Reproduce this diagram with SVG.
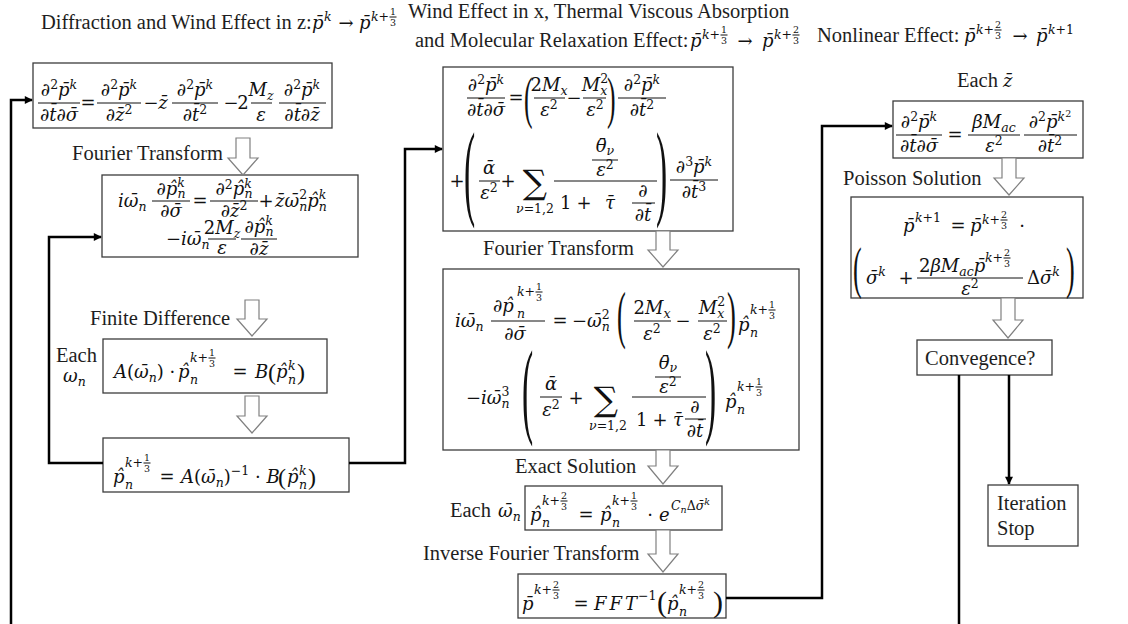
<svg xmlns="http://www.w3.org/2000/svg" width="1128" height="624" viewBox="0 0 1128 624">
<style>
.l{font-family:"Liberation Serif","Times New Roman",serif;font-size:20.5px;fill:#1e1e1e}
.m{font-family:"DejaVu Serif",serif;font-style:italic;font-size:18px;fill:#111}
.n{font-style:normal}
.s{font-size:12.5px}
.t{font-size:9.5px}
.c{text-anchor:middle}
.bar{stroke:#111;stroke-width:1}
.bx{fill:#fff;stroke:#3c3c3c;stroke-width:1.3}
.ha{fill:#fff;stroke:#808080;stroke-width:1.2}
.cn{fill:none;stroke:#000;stroke-width:2.5}
.pa{font-family:"Liberation Serif",serif;fill:#111}
</style>
<defs>
<marker id="ah" viewBox="0 0 10 10" refX="9" refY="5" markerWidth="9" markerHeight="8" markerUnits="userSpaceOnUse" orient="auto"><path d="M0,0 L10,5 L0,10 z" fill="#000"/></marker>
<g id="k13"><text class="m s" x="0" y="0">k+</text><text class="m n t c" x="22" y="-6">1</text><line class="bar" x1="18.5" x2="25.5" y1="-4" y2="-4" stroke-width="0.8"/><text class="m n t c" x="22" y="4.5">3</text></g>
<g id="k23"><text class="m s" x="0" y="0">k+</text><text class="m n t c" x="22" y="-6">2</text><line class="bar" x1="18.5" x2="25.5" y1="-4" y2="-4" stroke-width="0.8"/><text class="m n t c" x="22" y="4.5">3</text></g>
<text id="d2pk" class="m c">∂<tspan class="s n" dy="-7">2</tspan><tspan dy="7">p̄</tspan><tspan class="s" dy="-7">k</tspan></text>
<text id="dtds" class="m c">∂t̄∂σ̄</text>
<text id="dpnk" class="m c">∂p̂<tspan class="s" dy="-8">k</tspan><tspan class="s" dx="-7.5" dy="11">n</tspan></text>
<text id="e2" class="m c">ε<tspan class="s n" dy="-7">2</tspan></text>
</defs>

<g id="header">
<text class="l" x="41" y="29">Diffraction and Wind Effect in z:</text>
<text class="m" x="312" y="29">p̄</text><text class="m s" x="324" y="21">k</text>
<text class="m n c" x="346" y="29">→</text>
<text class="m" x="359" y="29">p̄</text><use href="#k13" x="371" y="21"/>
<text class="l" x="408" y="18">Wind Effect in x, Thermal Viscous Absorption</text>
<text class="l" x="415" y="47">and Molecular Relaxation Effect:</text>
<text class="m" x="690" y="47">p̄</text><use href="#k13" x="702" y="39"/>
<text class="m n c" x="745" y="47">→</text>
<text class="m" x="762" y="47">p̄</text><use href="#k23" x="774" y="39"/>
<text class="l" x="817" y="42">Nonlinear Effect:</text>
<text class="m" x="964" y="42">p̄</text><use href="#k23" x="976" y="34"/>
<text class="m n c" x="1020" y="42">→</text>
<text class="m" x="1036" y="42">p̄</text><text class="m s" x="1048" y="34">k<tspan class="n">+1</tspan></text>
</g>

<g id="n1">
<rect class="bx" x="33" y="63" width="299" height="65"/>
<use href="#d2pk" x="59" y="96"/><line class="bar" x1="38" x2="80" y1="103" y2="103"/><use href="#dtds" x="59" y="121"/>
<text class="m n c" x="88" y="109">=</text>
<use href="#d2pk" x="119" y="96"/><line class="bar" x1="97" x2="141" y1="103" y2="103"/><text class="m c" x="119" y="121">∂z̄<tspan class="s n" dy="-7">2</tspan></text>
<text class="m n c" x="151" y="109">−</text>
<text class="m c" x="163" y="109">z̄</text>
<use href="#d2pk" x="195" y="96"/><line class="bar" x1="172" x2="218" y1="103" y2="103"/><text class="m c" x="195" y="121">∂t̄<tspan class="s n" dy="-7">2</tspan></text>
<text class="m n c" x="231" y="109">−</text>
<text class="m n c" x="243" y="109">2</text>
<text class="m c" x="261" y="96">M<tspan class="s" dy="4">z</tspan></text><line class="bar" x1="251" x2="272" y1="103" y2="103"/><text class="m c" x="261" y="121">ε</text>
<use href="#d2pk" x="302" y="96"/><line class="bar" x1="279" x2="326" y1="103" y2="103"/><text class="m c" x="302" y="121">∂t̄∂z̄</text>
</g>

<g id="n2">
<rect class="bx" x="102" y="175" width="256" height="82"/>
<text class="m" x="118" y="207">iω̄<tspan class="s" dy="4">n</tspan></text>
<use href="#dpnk" x="171" y="195"/><line class="bar" x1="152" x2="190" y1="201" y2="201"/><text class="m c" x="171" y="217">∂σ̄</text>
<text class="m n c" x="200" y="207">=</text>
<text class="m c" x="234" y="195">∂<tspan class="s n" dy="-6">2</tspan><tspan dy="6">p̂</tspan><tspan class="s" dy="-7">k</tspan><tspan class="s" dx="-7.5" dy="10">n</tspan></text><line class="bar" x1="210" x2="258" y1="201" y2="201"/><text class="m c" x="234" y="217">∂z̄<tspan class="s n" dy="-7">2</tspan></text>
<text class="m n c" x="266" y="207">+</text>
<text class="m" x="275" y="207">z̄ω̄<tspan class="s n" dy="-8">2</tspan><tspan class="s" dx="-8" dy="12">n</tspan><tspan dy="-4">p̂</tspan><tspan class="s" dy="-8">k</tspan><tspan class="s" dx="-7.5" dy="12">n</tspan></text>
<text class="m" x="166" y="245"><tspan class="n">−</tspan>iω̄<tspan class="s" dy="4">n</tspan></text>
<text class="m c" x="222" y="234"><tspan class="n">2</tspan>M<tspan class="s" dy="4">z</tspan></text><line class="bar" x1="208" x2="236" y1="239" y2="239"/><text class="m c" x="222" y="254">ε</text>
<use href="#dpnk" x="259" y="233"/><line class="bar" x1="241" x2="277" y1="239" y2="239"/><text class="m c" x="259" y="255">∂z̄</text>
</g>

<g id="n3">
<text class="l" x="56" y="362">Each</text>
<text class="m" x="63" y="382">ω<tspan class="s" dy="4">n</tspan></text>
<rect class="bx" x="103" y="339" width="224" height="54"/>
<text class="m" x="114" y="378">A<tspan class="n">(</tspan>ω̄<tspan class="s" dy="4">n</tspan><tspan class="n" dy="-4">) ·</tspan></text>
<text class="m" x="178" y="378">p̂</text><use href="#k13" x="190" y="362"/><text class="m s" x="190" y="384">n</text>
<text class="m n c" x="240" y="378">=</text>
<text class="m" x="255" y="378">B</text>
<text class="pa" x="268" y="380" font-size="24">(</text>
<text class="m" x="276" y="378">p̂</text><text class="m s" x="288" y="370">k</text><text class="m s" x="288" y="384">n</text>
<text class="pa" x="297" y="380" font-size="24">)</text>
</g>

<g id="n4">
<rect class="bx" x="103" y="438" width="246" height="54"/>
<text class="m" x="113" y="483">p̂</text><use href="#k13" x="125" y="467"/><text class="m s" x="125" y="489">n</text>
<text class="m n c" x="167" y="483">=</text>
<text class="m" x="181" y="483">A<tspan class="n">(</tspan>ω̄<tspan class="s" dy="4">n</tspan><tspan class="n" dy="-4">)</tspan><tspan class="s n" dy="-8">−1</tspan><tspan class="n" dy="8"> · </tspan>B</text>
<text class="pa" x="278" y="485" font-size="24">(</text>
<text class="m" x="287" y="483">p̂</text><text class="m s" x="299" y="475">k</text><text class="m s" x="299" y="489">n</text>
<text class="pa" x="308" y="485" font-size="24">)</text>
</g>

<g id="n5">
<rect class="bx" x="443" y="67" width="290" height="164"/>
<use href="#d2pk" x="486" y="91"/><line class="bar" x1="467" x2="505" y1="98" y2="98"/><use href="#dtds" x="486" y="116"/>
<text class="m n c" x="516" y="104">=</text>
<text class="pa" font-size="57" transform="translate(524,117) scale(0.45,1)">(</text>
<text class="m c" x="549" y="91"><tspan class="n">2</tspan>M<tspan class="s" dy="4">x</tspan></text><line class="bar" x1="534" x2="565" y1="98" y2="98"/><use href="#e2" x="549" y="116"/>
<text class="m n c" x="574" y="104">−</text>
<text class="m c" x="595" y="91">M<tspan class="s n" dy="-8">2</tspan><tspan class="s" dx="-8" dy="12">x</tspan></text><line class="bar" x1="583" x2="606" y1="98" y2="98"/><use href="#e2" x="595" y="116"/>
<text class="pa" font-size="57" transform="translate(607,117) scale(0.45,1)">)</text>
<use href="#d2pk" x="642" y="91"/><line class="bar" x1="618" x2="666" y1="98" y2="98"/><text class="m c" x="642" y="116">∂t̄<tspan class="s n" dy="-7">2</tspan></text>
<text class="m n c" x="457" y="187">+</text>
<text class="pa" font-size="105" transform="translate(464,206) scale(0.32,1)">(</text>
<text class="m c" x="489" y="174">ᾱ</text><line class="bar" x1="479" x2="500" y1="181" y2="181"/><use href="#e2" x="489" y="199"/>
<text class="m n c" x="508" y="187">+</text>
<text class="m n c" x="535" y="194" style="font-size:34px">∑</text>
<text class="m s c" x="535" y="213">ν<tspan class="n">=1,2</tspan></text>
<text class="m c" x="605" y="152">θ̄<tspan class="s" dy="3">ν</tspan></text><line class="bar" x1="592" x2="618" y1="160" y2="160"/><use href="#e2" x="605" y="176"/>
<line class="bar" x1="554" x2="657" y1="181" y2="181"/>
<text class="m n" x="560" y="209">1</text><text class="m n c" x="584" y="209">+</text><text class="m" x="605" y="209">τ̄</text>
<text class="m c" x="643" y="197">∂</text><line class="bar" x1="632" x2="655" y1="203" y2="203"/><text class="m c" x="643" y="221">∂t̄</text>
<text class="pa" font-size="105" transform="translate(656,206) scale(0.32,1)">)</text>
<text class="m c" x="694" y="173">∂<tspan class="s n" dy="-7">3</tspan><tspan dy="7">p̄</tspan><tspan class="s" dy="-7">k</tspan></text><line class="bar" x1="670" x2="718" y1="180" y2="180"/><text class="m c" x="694" y="198">∂t̄<tspan class="s n" dy="-7">3</tspan></text>
</g>

<g id="n6">
<rect class="bx" x="443" y="269" width="356" height="181"/>
<text class="m" x="455" y="327">iω̄<tspan class="s" dy="4">n</tspan></text>
<text class="m" x="493" y="312">∂p̂</text><text class="m s" x="517" y="318">n</text><use href="#k13" x="517" y="296"/>
<line class="bar" x1="491" x2="545" y1="321" y2="321"/><text class="m c" x="515" y="340">∂σ̄</text>
<text class="m n c" x="560" y="327">=</text>
<text class="m" x="572" y="327"><tspan class="n">−</tspan>ω̄<tspan class="s n" dy="-8">2</tspan><tspan class="s" dx="-8" dy="12">n</tspan></text>
<text class="pa" font-size="63" transform="translate(617,336) scale(0.42,1)">(</text>
<text class="m c" x="652" y="314"><tspan class="n">2</tspan>M<tspan class="s" dy="4">x</tspan></text><line class="bar" x1="634" x2="671" y1="321" y2="321"/><use href="#e2" x="652" y="340"/>
<text class="m n c" x="683" y="327">−</text>
<text class="m c" x="712" y="314">M<tspan class="s n" dy="-8">2</tspan><tspan class="s" dx="-8" dy="12">x</tspan></text><line class="bar" x1="698" x2="727" y1="321" y2="321"/><use href="#e2" x="712" y="340"/>
<text class="pa" font-size="63" transform="translate(727,336) scale(0.42,1)">)</text>
<text class="m" x="738" y="331">p̂</text><text class="m s" x="750" y="337">n</text><use href="#k13" x="750" y="314"/>
<text class="m" x="466" y="404"><tspan class="n">−</tspan>iω̄<tspan class="s n" dy="-8">3</tspan><tspan class="s" dx="-8" dy="12">n</tspan></text>
<text class="pa" font-size="105" transform="translate(522,424) scale(0.32,1)">(</text>
<text class="m c" x="551" y="390">ᾱ</text><line class="bar" x1="540" x2="562" y1="397" y2="397"/><use href="#e2" x="551" y="416"/>
<text class="m n c" x="576" y="404">+</text>
<text class="m n c" x="606" y="411" style="font-size:34px">∑</text>
<text class="m s c" x="608" y="430">ν<tspan class="n">=1,2</tspan></text>
<text class="m c" x="668" y="369">θ̄<tspan class="s" dy="3">ν</tspan></text><line class="bar" x1="655" x2="681" y1="377" y2="377"/><use href="#e2" x="668" y="393"/>
<line class="bar" x1="632" x2="706" y1="397" y2="397"/>
<text class="m n" x="636" y="426">1</text><text class="m n c" x="660" y="426">+</text><text class="m" x="673" y="426">τ̄</text>
<text class="m c" x="695" y="413">∂</text><line class="bar" x1="685" x2="706" y1="419" y2="419"/><text class="m c" x="695" y="437">∂t̄</text>
<text class="pa" font-size="105" transform="translate(705,424) scale(0.32,1)">)</text>
<text class="m" x="725" y="408">p̂</text><text class="m s" x="737" y="414">n</text><use href="#k13" x="737" y="391"/>
</g>

<g id="n7">
<text class="l" x="450" y="517">Each</text>
<text class="m" x="498" y="517">ω̄<tspan class="s" dy="4">n</tspan></text>
<rect class="bx" x="525" y="486" width="197" height="44"/>
<text class="m" x="530" y="521">p̂</text><text class="m s" x="542" y="527">n</text><use href="#k23" x="542" y="505"/>
<text class="m n c" x="586" y="521">=</text>
<text class="m" x="600" y="521">p̂</text><text class="m s" x="612" y="527">n</text><use href="#k13" x="612" y="505"/>
<text class="m n c" x="650" y="521">·</text>
<text class="m" x="659" y="521">e</text>
<text class="m s" x="671" y="510">C<tspan class="t" dy="3">n</tspan><tspan class="n" dy="-3">Δ</tspan>σ̄<tspan class="t" dy="-5">k</tspan></text>
</g>

<g id="n8">
<rect class="bx" x="518" y="574" width="208" height="44"/>
<text class="m" x="522" y="610">p̄</text><use href="#k23" x="534" y="594"/>
<text class="m n c" x="581" y="610">=</text>
<text class="m" x="594" y="610" letter-spacing="3">FFT</text><text class="m s n" x="638" y="600">−1</text>
<text class="pa" x="657" y="612" font-size="30">(</text>
<text class="m" x="667" y="610">p̂</text><text class="m s" x="679" y="616">n</text><use href="#k23" x="679" y="594"/>
<text class="pa" x="713" y="612" font-size="30">)</text>
</g>

<g id="n9">
<text class="l" x="957" y="87">Each</text><text class="m" x="1003" y="87">z̄</text>
<rect class="bx" x="893" y="101" width="190" height="57"/>
<use href="#d2pk" x="919" y="128"/><line class="bar" x1="896" x2="942" y1="135" y2="135"/><use href="#dtds" x="919" y="152"/>
<text class="m n c" x="955" y="141">=</text>
<text class="m c" x="994" y="128">βM<tspan class="s" dy="4">ac</tspan></text><line class="bar" x1="968" x2="1020" y1="135" y2="135"/><use href="#e2" x="994" y="152"/>
<text class="m c" x="1050" y="128">∂<tspan class="s n" dy="-7">2</tspan><tspan dy="7">p̄</tspan><tspan class="s" dy="-7">k</tspan><tspan class="t n" dy="-4">2</tspan></text><line class="bar" x1="1024" x2="1077" y1="135" y2="135"/><text class="m c" x="1050" y="152">∂t̄<tspan class="s n" dy="-7">2</tspan></text>
</g>

<g id="n10">
<rect class="bx" x="851" y="197" width="232" height="101"/>
<text class="m" x="903" y="232">p̄</text><text class="m s" x="915" y="222">k<tspan class="n">+1</tspan></text>
<text class="m n c" x="958" y="232">=</text>
<text class="m" x="970" y="232">p̄</text><use href="#k23" x="982" y="224"/>
<text class="m n c" x="1022" y="232">·</text>
<text class="pa" font-size="58" transform="translate(853,287) scale(0.45,1)">(</text>
<text class="m" x="866" y="284">σ̄<tspan class="s" dy="-8">k</tspan></text>
<text class="m n c" x="906" y="284">+</text>
<text class="m" x="919" y="272"><tspan class="n">2</tspan>βM<tspan class="s" dy="4">ac</tspan><tspan dy="-4">p̄</tspan></text><use href="#k23" x="985" y="262"/>
<line class="bar" x1="917" x2="1023" y1="278" y2="278"/><use href="#e2" x="970" y="295"/>
<text class="m" x="1027" y="284"><tspan class="n">Δ</tspan>σ̄<tspan class="s" dy="-8">k</tspan></text>
<text class="pa" font-size="58" transform="translate(1066,287) scale(0.45,1)">)</text>
</g>

<g id="n11">
<rect class="bx" x="917" y="340" width="135" height="35"/>
<text class="l" x="925" y="365">Convegence?</text>
</g>

<g id="n12">
<rect class="bx" x="988" y="485" width="90" height="61"/>
<text class="l" x="997" y="510">Iteration</text>
<text class="l" x="997" y="535">Stop</text>
</g>

<g id="labels">
<text class="l" x="72" y="160">Fourier Transform</text>
<text class="l" x="90" y="325">Finite Difference</text>
<text class="l" x="483" y="255">Fourier Transform</text>
<text class="l" x="515" y="473">Exact Solution</text>
<text class="l" x="423" y="560">Inverse Fourier Transform</text>
<text class="l" x="843" y="185">Poisson Solution</text>
</g>

<g id="connectors">
<path class="ha" d="M236,138 H250 V158 H258 L243,175 L228,158 H236 Z"/>
<path class="ha" d="M245,300 H259 V319 H267 L252,336 L237,319 H245 Z"/>
<path class="ha" d="M245,396 H259 V416 H267 L252,433 L237,416 H245 Z"/>
<path class="ha" d="M656,231 H670 V250 H678 L663,267 L648,250 H656 Z"/>
<path class="ha" d="M656,450 H670 V466 H678 L663,484 L648,466 H656 Z"/>
<path class="ha" d="M656,530 H670 V554 H678 L663,572 L648,554 H656 Z"/>
<path class="ha" d="M1002,158 H1016 V178 H1024 L1009,195 L994,178 H1002 Z"/>
<path class="ha" d="M1001,298 H1015 V320 H1023 L1008,338 L993,320 H1001 Z"/>
<path class="cn" d="M11,624 V100 H32" marker-end="url(#ah)"/>
<path class="cn" d="M103,463 H49 V237 H101" marker-end="url(#ah)"/>
<path class="cn" d="M349,463 H405 V149 H442" marker-end="url(#ah)"/>
<path class="cn" d="M726,598 H822 V126 H892" marker-end="url(#ah)"/>
<path class="cn" d="M959,375 V624"/>
<path class="cn" d="M1009,375 V484" marker-end="url(#ah)"/>
</g>
</svg>
